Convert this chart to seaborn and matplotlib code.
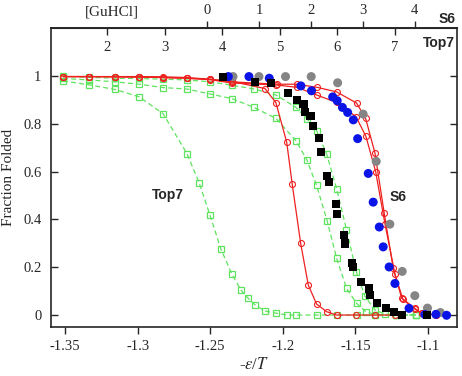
import numpy as np
import pandas as pd
import matplotlib
matplotlib.use("Agg")
import matplotlib.pyplot as plt
import seaborn as sns

# ---------------- data ----------------
# Top7 simulation curves (green dashed, open squares)
g1_x = [-1.3514, -1.3335, -1.3156, -1.2990, -1.2825, -1.2660, -1.2577, -1.2501, -1.2426,
        -1.2350, -1.2288, -1.2240, -1.2190, -1.2123, -1.2047, -1.1971, -1.1909, -1.1764,
        -1.1627, -1.1491, -1.1365, -1.1220, -1.1083]
g1_y = [0.979, 0.9625, 0.943, 0.9125, 0.842, 0.675, 0.554, 0.417, 0.275,
        0.171, 0.104, 0.071, 0.042, 0.017, 0.008, 0.0, 0.0, 0.0,
        0.0, 0.0, 0.0, 0.0, 0.0]
g2_x = [-1.3514, -1.3335, -1.3156, -1.2990, -1.2825, -1.2660, -1.2501, -1.2350, -1.2198,
        -1.2047, -1.1909, -1.1835, -1.1767, -1.1694, -1.1629, -1.1560, -1.1491, -1.1427,
        -1.1365, -1.1220, -1.1083]
g2_y = [0.989, 0.983, 0.975, 0.965, 0.951, 0.945, 0.924, 0.905, 0.868,
        0.822, 0.729, 0.650, 0.542, 0.393, 0.2375, 0.111, 0.049, 0.014,
        0.002, 0.0, 0.0]
g3_x = [-1.3514, -1.3335, -1.3156, -1.2990, -1.2825, -1.2660, -1.2501, -1.2350, -1.2198,
        -1.2047, -1.1909, -1.1835, -1.1767, -1.1698, -1.1629, -1.1561, -1.1493, -1.1434,
        -1.1365, -1.1296, -1.1220, -1.1083]
g3_y = [0.998, 0.994, 0.990, 0.989, 0.986, 0.983, 0.975, 0.961, 0.945,
        0.920, 0.868, 0.821, 0.771, 0.674, 0.528, 0.357, 0.180, 0.079,
        0.021, 0.004, 0.0, 0.0]

# simulation curves (red solid, open circles)
r1_x = [-1.3514, -1.3335, -1.3156, -1.2990, -1.2825, -1.2660, -1.2501, -1.2350, -1.2123,
        -1.2047, -1.1973, -1.1935, -1.1877, -1.1824, -1.1767, -1.1698, -1.1629, -1.1496,
        -1.1365, -1.1227]
r1_y = [0.997, 0.997, 0.997, 0.997, 0.996, 0.993, 0.986, 0.977, 0.947,
        0.8875, 0.723, 0.548, 0.301, 0.125, 0.046, 0.014, 0.0, 0.0,
        0.0, 0.0]
r2_x = [-1.3514, -1.3335, -1.3156, -1.2990, -1.2825, -1.2660, -1.2501, -1.2350, -1.2043,
        -1.1902, -1.1764, -1.1629, -1.1491, -1.1429, -1.1365, -1.1301, -1.1239, -1.1181,
        -1.1090, -1.1043, -1.0945]
r2_y = [0.997, 0.997, 0.996, 0.995, 0.993, 0.990, 0.985, 0.975, 0.965,
        0.965, 0.952, 0.933, 0.886, 0.822, 0.678, 0.426, 0.196, 0.071,
        0.028, 0.008, 0.0]
r3_x = [-1.3514, -1.3335, -1.3156, -1.2990, -1.2825, -1.2660, -1.2501, -1.2350, -1.2047,
        -1.1902, -1.1767, -1.1629, -1.1496, -1.1427, -1.1360, -1.1296, -1.1227, -1.1172,
        -1.1090, -1.1043, -1.0945]
r3_y = [0.997, 0.997, 0.996, 0.995, 0.993, 0.990, 0.984, 0.970, 0.962,
        0.952, 0.920, 0.889, 0.830, 0.747, 0.600, 0.382, 0.171, 0.065,
        0.025, 0.008, 0.0]

# Top7 experiment (black squares)
k_x = [-1.2414, -1.2191, -1.2081, -1.1964, -1.1904, -1.1857, -1.1847, -1.1809, -1.1794,
       -1.1749, -1.1737, -1.1694, -1.1684, -1.1634, -1.1629, -1.1576, -1.1572, -1.1521,
       -1.1514, -1.1458, -1.1404, -1.1399, -1.1348, -1.1289, -1.1233, -1.1181, -1.1009]
k_y = [0.997, 0.976, 0.970, 0.928, 0.900, 0.883, 0.850, 0.833, 0.792,
       0.739, 0.680, 0.583, 0.558, 0.465, 0.424, 0.333, 0.299, 0.217,
       0.202, 0.1375, 0.111, 0.085, 0.050, 0.028, 0.0125, 0.0, 0.0]

# S6 experiments (blue and gray circles)
b_x = [-1.2375, -1.2233, -1.2093, -1.1875, -1.1802, -1.1656, -1.1625, -1.1589, -1.1553,
       -1.1514, -1.1484, -1.1411, -1.1377, -1.1335, -1.1308, -1.1267, -1.1227, -1.1130,
       -1.1021, -1.0945, -1.0871]
b_y = [0.997, 0.997, 0.990, 0.958, 0.9375, 0.912, 0.896, 0.868, 0.847,
       0.816, 0.7375, 0.592, 0.472, 0.368, 0.285, 0.201, 0.132, 0.028,
       0.002, 0.003, -0.001]
s_x = [-1.2343, -1.2164, -1.1981, -1.1804, -1.1622, -1.1446, -1.1356, -1.1262, -1.1177,
       -1.1090, -1.1003, -1.0914]
s_y = [0.997, 0.997, 0.997, 0.997, 0.971, 0.840, 0.6425, 0.380, 0.1825,
       0.081, 0.029, 0.0105]

# top axes tick labels
top7_ticks = [2, 3, 4, 5, 6, 7]
s6_ticks = [0, 1, 2, 3, 4]

# ---------------- plot ----------------
sns.set_style("ticks")
plt.rcParams["font.family"] = ["Liberation Serif", "DejaVu Serif"]
plt.rcParams["mathtext.fontset"] = "stix"

fig = plt.figure(figsize=(4.62, 3.76), dpi=100)
ax = fig.add_axes([0.1104, 0.1303, 0.8786, 0.7952])

GREEN = "#5fe35f"
RED = "#ee2020"

def df(x, y):
    return pd.DataFrame({"x": x, "y": y})

for gx, gy in [(g1_x, g1_y), (g2_x, g2_y), (g3_x, g3_y)]:
    sns.lineplot(data=df(gx, gy), x="x", y="y", ax=ax, color=GREEN, lw=0.9,
                 linestyle=(0, (4, 2.5)), marker="s", markersize=4.3,
                 markerfacecolor="none", markeredgecolor=GREEN, markeredgewidth=0.9,
                 estimator=None, sort=False, zorder=2)

for rx, ry in [(r1_x, r1_y), (r2_x, r2_y), (r3_x, r3_y)]:
    sns.lineplot(data=df(rx, ry), x="x", y="y", ax=ax, color=RED, lw=0.9,
                 marker="o", markersize=4.3,
                 markerfacecolor="none", markeredgecolor=RED, markeredgewidth=0.8,
                 estimator=None, sort=False, zorder=3)

sns.scatterplot(data=df(s_x, s_y), x="x", y="y", ax=ax, color="#858585", marker="o",
                s=42, edgecolor="none", zorder=4)
sns.scatterplot(data=df(b_x, b_y), x="x", y="y", ax=ax, color="#0a14e6", marker="o",
                s=42, edgecolor="none", zorder=5)
sns.scatterplot(data=df(k_x, k_y), x="x", y="y", ax=ax, color="black", marker="s",
                s=34, edgecolor="none", zorder=6)

ax.set_xlim(-1.3597, -1.0800)
ax.set_ylim(-0.05, 1.2)
ax.set_xticks([-1.35, -1.3, -1.25, -1.2, -1.15, -1.1])
ax.set_xticklabels(["-1.35", "-1.3", "-1.25", "-1.2", "-1.15", "-1.1"])
ax.set_yticks([0, 0.2, 0.4, 0.6, 0.8, 1.0])
ax.set_yticklabels(["0", "0.2", "0.4", "0.6", "0.8", "1"])
ax.tick_params(axis="x", direction="out", length=5, width=1, labelsize=10.5, pad=4, top=False)
ax.tick_params(axis="y", direction="in", length=5, width=1, labelsize=10.5, right=True, pad=7)
for sp in ax.spines.values():
    sp.set_visible(True)
    sp.set_linewidth(1.2)

ax.set_xlabel(r"-$\varepsilon$/$T$", fontsize=12, labelpad=3)
ax.set_ylabel("Fraction Folded", fontsize=11, labelpad=6)

# Top7 denaturant axis (ticks inside)
def t7_fwd(x):
    return (np.asarray(x) + 1.3211) / 0.03968 + 2
def t7_inv(g):
    return -1.3211 + (np.asarray(g) - 2) * 0.03968
sec1 = ax.secondary_xaxis("top", functions=(t7_fwd, t7_inv))
sec1.set_xticks(top7_ticks)
sec1.set_xticklabels([str(t) for t in top7_ticks])
sec1.tick_params(direction="in", length=5, width=1, labelsize=10.5, pad=-19)
sec1.spines["top"].set_linewidth(1.2)

# S6 denaturant axis (ticks outside)
def s6_fwd(x):
    return (np.asarray(x) + 1.2522) / 0.0358
def s6_inv(g):
    return -1.2522 + np.asarray(g) * 0.0358
sec2 = ax.secondary_xaxis("top", functions=(s6_fwd, s6_inv))
sec2.set_xticks(s6_ticks)
sec2.set_xticklabels([str(t) for t in s6_ticks])
sec2.tick_params(direction="out", length=5, width=1, labelsize=10.5, pad=3)

ax.text(0.150, 1.052, "[GuHCl]", transform=ax.transAxes, ha="center", va="center",
        fontsize=11)
ax.text(0.997, 1.030, "S6", transform=ax.transAxes, ha="right", va="center",
        fontsize=10, fontweight="bold", family=["Liberation Sans", "DejaVu Sans"])
ax.text(0.995, 0.950, "Top7", transform=ax.transAxes, ha="right", va="center",
        fontsize=10, fontweight="bold", family=["Liberation Sans", "DejaVu Sans"])
ax.text(-1.279, 0.50, "Top7", ha="center", va="center",
        fontsize=10, fontweight="bold", family=["Liberation Sans", "DejaVu Sans"])
ax.text(-1.1262, 0.493, "S6", ha="left", va="center",
        fontsize=10, fontweight="bold", family=["Liberation Sans", "DejaVu Sans"])

fig.savefig("out.png", dpi=100)
